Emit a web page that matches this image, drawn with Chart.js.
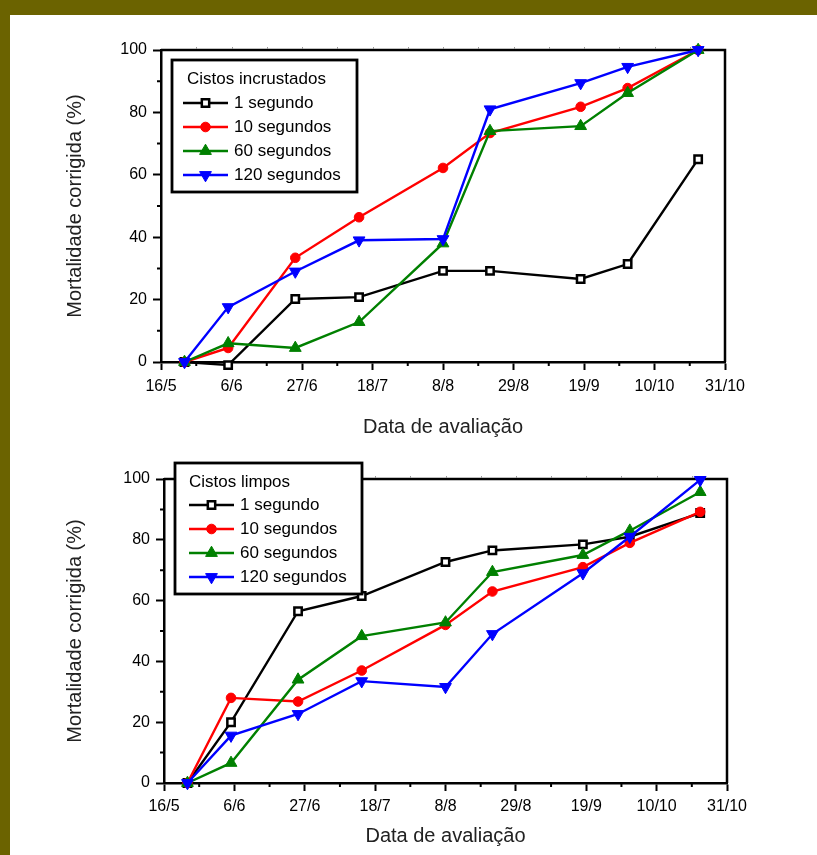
<!DOCTYPE html>
<html>
<head>
<meta charset="utf-8">
<script src="https://cdn.jsdelivr.net/npm/chart.js@4"></script>
<style>
  body { margin: 0; background: #6b6300; width: 817px; height: 855px; position: relative; overflow: hidden; }
  #folha { position: absolute; left: 10px; top: 15px; width: 807px; height: 840px; background: #fff; }
  .quadro { position: absolute; left: 10px; width: 807px; }
</style>
</head>
<body>
<div id="folha"></div>
<div class="quadro" style="top:15px;height:430px"><canvas id="grafIncrustados"></canvas></div>
<div class="quadro" style="top:445px;height:410px"><canvas id="grafLimpos"></canvas></div>

<script>
// datas de avaliação (dia/mês) e início do eixo
const inicioEixo = '16/5';
const fimEixo = '31/10';
const datasAvaliacao = ['23/5', '5/6', '25/6', '14/7', '8/8', '22/8', '18/9', '2/10', '23/10'];
const nomesSeries = ['1 segundo', '10 segundos', '60 segundos', '120 segundos'];

// Cistos incrustados - mortalidade corrigida (%)
const incrustados1s = [0, -1, 20.2, 20.8, 29.2, 29.2, 26.6, 31.4, 65];
const incrustados10s = [0, 4.5, 33.4, 46.4, 62.2, 73.4, 81.8, 87.8, 100];
const incrustados60s = [0, 6, 4.5, 12.8, 38, 74, 75.6, 86.2, 100];
const incrustados120s = [0, 17.6, 29, 39, 39.4, 81, 89.4, 94.6, 100];

// Cistos limpos - mortalidade corrigida (%)
const limpos1s = [0, 20, 56.5, 61.5, 72.7, 76.5, 78.5, 81, 88.8];
const limpos10s = [0, 28, 26.8, 37, 52, 63, 71, 79, 89.2];
const limpos60s = [0, 6.6, 34, 48.3, 52.8, 69.4, 75, 83, 95.7];
const limpos120s = [0, 15.6, 22.7, 33.5, 31.6, 49, 69, 81, 99.7];

const FONTE = '"Liberation Sans", Arial, sans-serif';
const UM_DIA = 86400000;

function paraDias(str) {
  const [d, m] = str.split('/').map(Number);
  const [d0, m0] = inicioEixo.split('/').map(Number);
  return (Date.UTC(2000, m - 1, d) - Date.UTC(2000, m0 - 1, d0)) / UM_DIA;
}
function paraData(dias) {
  const [d0, m0] = inicioEixo.split('/').map(Number);
  const dt = new Date(Date.UTC(2000, m0 - 1, d0) + Math.round(dias) * UM_DIA);
  return dt.getUTCDate() + '/' + (dt.getUTCMonth() + 1);
}

const estilos = [
  { cor: '#000000', ponto: 'rect', raio: 5.2, fundo: '#ffffff', rot: 0, ordem: 3, borda: 2.5 },
  { cor: '#ff0000', ponto: 'circle', raio: 4.8, fundo: '#ff0000', rot: 0, ordem: 2, borda: 1 },
  { cor: '#008000', ponto: 'triangle', raio: 6.8, fundo: '#008000', rot: 0, ordem: 1, borda: 1 },
  { cor: '#0000ff', ponto: 'triangle', raio: 6.8, fundo: '#0000ff', rot: 180, ordem: 0, borda: 1 },
];

function montaDatasets(valores) {
  return valores.map((serie, i) => ({
    label: nomesSeries[i],
    data: serie.map((v, j) => ({ x: paraDias(datasAvaliacao[j]), y: v })),
    borderColor: estilos[i].cor,
    backgroundColor: estilos[i].fundo,
    pointBackgroundColor: estilos[i].fundo,
    pointBorderColor: estilos[i].cor,
    pointBorderWidth: estilos[i].borda,
    pointStyle: estilos[i].ponto,
    pointRadius: estilos[i].raio,
    pointRotation: estilos[i].rot,
    borderWidth: 2.4,
    tension: 0,
    clip: false,
    order: estilos[i].ordem,
  }));
}

// moldura superior/direita, marcas menores dos eixos e caixa da legenda
const molduraPlugin = {
  id: 'moldura',
  beforeDatasetsDraw(chart) {
    const { ctx, chartArea: a, scales } = chart;
    ctx.save();
    ctx.strokeStyle = '#000';
    ctx.lineWidth = 2.5;
    ctx.beginPath();
    ctx.moveTo(a.left, a.top);
    ctx.lineTo(a.right, a.top);
    ctx.lineTo(a.right, a.bottom);
    ctx.stroke();

    ctx.lineWidth = 2;
    ctx.beginPath();
    for (let v = 10.5; v < 168; v += 21) {
      const px = scales.x.getPixelForValue(v);
      ctx.moveTo(px, a.bottom);
      ctx.lineTo(px, a.bottom + 4);
    }
    for (let v = 10; v < 100; v += 20) {
      const py = scales.y.getPixelForValue(v);
      ctx.moveTo(a.left, py);
      ctx.lineTo(a.left - 4, py);
    }
    ctx.stroke();

    ctx.strokeStyle = '#999';
    ctx.lineWidth = 1;
    ctx.beginPath();
    for (let v = 10.5; v < 168; v += 10.5) {
      const px = Math.round(scales.x.getPixelForValue(v)) + 0.5;
      ctx.moveTo(px, a.top - 1);
      ctx.lineTo(px, a.top - 3);
    }
    ctx.stroke();
    ctx.restore();
  },
  afterDraw(chart, args, opts) {
    const ctx = chart.ctx;
    ctx.save();
    ctx.fillStyle = '#fff';
    ctx.fillRect(opts.x, opts.y, opts.w, opts.h);
    ctx.strokeStyle = '#000';
    ctx.lineWidth = 2.8;
    ctx.strokeRect(opts.x, opts.y, opts.w, opts.h);
    ctx.font = '17px ' + FONTE;
    ctx.textBaseline = 'middle';
    ctx.fillStyle = '#000';
    ctx.fillText(opts.titulo, opts.xTitulo, opts.yTitulo);
    nomesSeries.forEach((nome, i) => {
      const e = estilos[i];
      const yy = opts.yItem + i * opts.passo;
      ctx.strokeStyle = e.cor;
      ctx.lineWidth = 2.4;
      ctx.beginPath();
      ctx.moveTo(opts.xLinha, yy);
      ctx.lineTo(opts.xLinha + 45, yy);
      ctx.stroke();
      ctx.fillStyle = e.fundo;
      ctx.strokeStyle = e.cor;
      ctx.lineWidth = e.borda;
      Chart.helpers.drawPoint(ctx, {
        pointStyle: e.ponto, radius: e.raio, rotation: e.rot, borderWidth: e.borda,
      }, opts.xLinha + 22.5, yy);
      ctx.fillStyle = '#000';
      ctx.fillText(nome, opts.xTexto, yy);
    });
    ctx.restore();
  },
};

function criaGrafico(id, valores, caixa, layout) {
  const ctx = document.getElementById(id).getContext('2d');
  return new Chart(ctx, {
    type: 'line',
    data: { datasets: montaDatasets(valores) },
    plugins: [molduraPlugin],
    options: {
      responsive: true,
      maintainAspectRatio: false,
      animation: false,
      layout: { padding: { left: 53, top: layout.topo, right: layout.direita, bottom: 0 } },
      plugins: {
        legend: { display: false },
        tooltip: { enabled: false },
        moldura: caixa,
      },
      scales: {
        x: {
          type: 'linear',
          min: 0,
          max: paraDias(fimEixo),
          border: { color: '#000', width: 2.5 },
          grid: { drawOnChartArea: false, tickLength: 8, tickWidth: 2, tickColor: '#000' },
          ticks: {
            stepSize: 21,
            autoSkip: false,
            maxRotation: 0,
            padding: layout.padX,
            color: '#000',
            font: { family: FONTE, size: 16 },
            callback: (v) => paraData(v),
          },
          title: {
            display: true,
            text: 'Data de avaliação',
            color: '#222',
            font: { family: FONTE, size: 20 },
            padding: { top: 0, bottom: layout.padTitulo },
          },
          afterFit: (s) => { s.height = layout.alturaX; },
        },
        y: {
          min: 0,
          max: 100,
          border: { color: '#000', width: 2.5 },
          grid: { drawOnChartArea: false, tickLength: 8, tickWidth: 2, tickColor: '#000' },
          ticks: {
            stepSize: 20,
            padding: 6,
            color: '#000',
            font: { family: FONTE, size: 16 },
          },
          title: {
            display: true,
            text: 'Mortalidade corrigida (%)',
            color: '#222',
            font: { family: FONTE, size: 20 },
            padding: 0,
          },
          afterFit: (s) => { s.width = layout.larguraY; },
        },
      },
    },
  });
}

criaGrafico('grafIncrustados',
  [incrustados1s, incrustados10s, incrustados60s, incrustados120s],
  { titulo: 'Cistos incrustados', x: 162, y: 45, w: 185, h: 132, xTitulo: 177, yTitulo: 64,
    yItem: 88, passo: 24, xLinha: 173, xTexto: 224 },
  { topo: 35, direita: 92, larguraY: 98, alturaX: 83, padX: 7, padTitulo: 6 });

criaGrafico('grafLimpos',
  [limpos1s, limpos10s, limpos60s, limpos120s],
  { titulo: 'Cistos limpos', x: 165, y: 18, w: 187, h: 131, xTitulo: 179, yTitulo: 37,
    yItem: 60, passo: 24, xLinha: 179, xTexto: 230 },
  { topo: 34, direita: 90, larguraY: 101, alturaX: 72, padX: 6, padTitulo: 7 });
</script>
</body>
</html>
